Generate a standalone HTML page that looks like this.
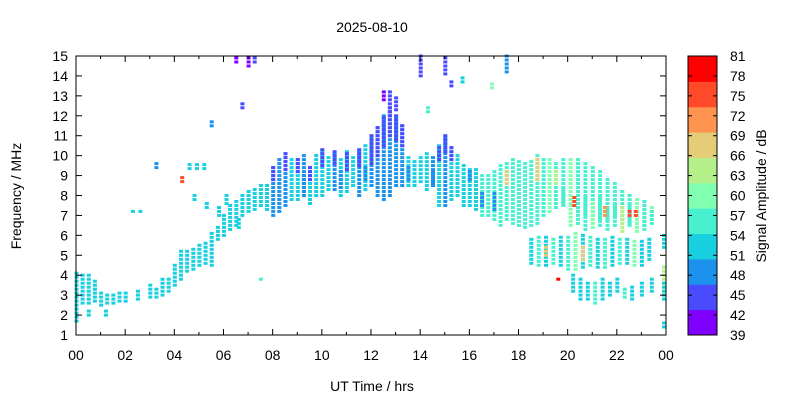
<!DOCTYPE html>
<html><head><meta charset="utf-8"><style>
body{margin:0;background:#fff;}
svg text{font-family:"Liberation Sans",sans-serif;font-size:14px;fill:#000;}
</style></head><body>
<svg id="c" width="800" height="400"></svg>
<script>
const hours=[0,0.25,0.5,0.75,1,1.25,1.5,1.75,2,2.5,3,3.25,3.5,3.75,4,4.25,4.5,4.75,5,5.25,5.5,5.75,6,6.25,6.5,6.75,7,7.25,7.5,7.75,8,8.25,8.5,8.75,9,9.25,9.5,9.75,10,10.25,10.5,10.75,11,11.25,11.5,11.75,12,12.25,12.5,12.75,13,13.25,13.5,13.75,14,14.25,14.5,14.75,15,15.25,15.5,15.75,16,16.25,16.5,16.75,17,17.25,17.5,17.75,18,18.25,18.5,18.75,19,19.25,19.5,
19.8,20.1,20.4,20.7,21,21.3,21.6,21.9,22.2,22.5,22.8,23.1,23.4,
19.8,20.1,20.4,20.7,21,21.3,21.6,21.9,22.2,22.5,22.8,23.1,23.4,23.9,
18.5,18.8,19.1,19.4,19.7,20,20.3,20.6,20.9,21.2,21.5,21.8,22.1,22.4,22.7,23,23.3,23.9,
20.2,20.5,20.8,21.1,21.4,21.7,22,22.3,22.6,23,23.4,23.9];
const lowF=[1.7,2.6,2.6,2.7,2.5,2.6,2.6,2.7,2.7,2.8,2.9,2.9,3,3.2,3.5,3.8,4.2,4.3,4.5,4.6,4.5,5.8,6,6.3,6.5,7,7.2,7.3,7.5,7.3,7,7.2,7.5,7.8,7.8,8,7.6,8,8,8.3,8.3,8,8.2,8.5,8,8.3,8.5,8,7.8,8,8.5,8.5,8.5,8.5,8.7,8.3,8.5,7.5,7.5,7.8,8,7.5,7.5,7.3,7,7,6.8,6.5,6.8,6.6,6.5,6.4,6.5,6.6,7,7.2,7.4,
7.6,7.6,7.4,7,7,6.8,6.8,7,6.8,6.6,6.6,6.5,6.8,
7.5,6.5,6.6,6.3,6.4,6.5,6.3,6.5,6.2,6.5,6.2,6.3,6.6,5.4,
4.6,4.5,4.5,4.6,4.5,4.3,4.3,4.4,4.5,4.4,4.4,4.5,4.6,4.6,4.5,4.5,4.8,3.2,
3.2,2.8,2.8,2.6,2.8,3,3.2,2.9,2.8,3,3.2,2.8];
const highF=[4.2,4,4,3.8,3.2,3.1,3,3.1,3.2,3.3,3.5,3.3,3.9,3.8,4.6,5.2,5.2,5.4,5.5,5.6,6.2,6.5,7,7.5,7.8,8,8.2,8.3,8.5,8.6,9.5,9.8,10.2,9.8,9.8,10,9.5,10,10.3,10,10.2,9.8,10.2,10,10.3,10.5,11,11.5,12,12.5,12,11.5,10,9.8,10,10.2,10,10.5,11,10.5,10,9.5,9.3,9.3,9,9,9.2,9.5,9.6,9.8,9.8,9.6,9.8,10,9.8,9.8,9.6,
9.9,9.9,9.9,9.6,9.4,9.3,8.8,8.6,8.2,8,7.9,7.8,7.5,
8.3,7.5,7.8,7.9,7.6,7.9,7.4,7.6,7.5,7.6,7.5,7.3,7.3,6,
5.8,5.9,5.9,5.8,5.9,6.0,6.1,6.1,5.9,5.8,5.9,6.0,5.9,5.9,5.8,5.8,5.9,4.5,
4.0,3.8,3.6,3.6,3.9,3.7,3.8,3.4,3.4,3.6,3.8,3.6];
const amps=[53,53,53,53,53,53,53,53,53,53,53,53,53,53,53,53,53,53,53,53,53,53,53,52,52,52,52,52,52,52,50,50,50,52,52,50,52,52,52,52,50,52,52,52,50,52,50,50,48,48,50,50,52,52,52,52,50,52,50,52,52,52,53,53,55,55,56,58,57,58,56,56,57,58,58,60,57,
58,60,58,56,56,57,58,56,56,58,60,58,60,
57,60,58,56,60,57,56,58,62,56,60,58,56,53,
53,56,53,57,53,56,60,53,57,53,56,53,57,53,60,53,53,62,
53,52,53,56,53,52,53,56,52,53,53,53];
// upper blue parts and highlights
const upHours=[8,8.5,9,9.5,10,10.5,11,11.5,12,12.25,12.5,12.75,13,13.25,14.75,15,15.25,16,17.5,18.75,19.5,20.25,22.5,22.75,9.25,10.75,11.75,13.5,14.5,16.5,17,19.1,20.6,21.5];
const upLow=[8.8,9.3,9.2,8.8,9.5,9.6,9.3,9.5,9.6,10,10.5,11,10.8,10.5,9.8,10.2,9.8,8.8,8.6,8.8,8.6,7.5,7,7,8.2,8.4,8.8,8.8,8.6,7.5,7.3,5,4.8,7];
const upHigh=[9.5,10.2,9.8,9.5,10.3,10.2,10.2,10.3,11,11.5,12,12.5,12,11.5,10.5,11,10.5,9.3,9.3,9.8,9.3,8,7.3,7.3,9,9.2,9.4,9.4,9.2,8.2,8.2,5.5,5.4,7.4];
const upAmps=[46,46,46,46,46,46,46,46,46,45,45,44,45,46,46,46,46,48,66,67,63,75,77,76,48,48,48,48,48,48,48,66,66,72];
// sporadic echoes
const spHours=[6.5,7,7.25,6.75,12.5,12.75,13,14,15,17.5,15.25,5.5,3.25,4.3,4.6,4.9,5.2,23.9,0.5,1.2,2.3,2.6,7.5,5.8,6.1,6.6,4.8,5.3,19.6,14.3,15.7,16.9];
const spLow=[14.7,14.5,14.7,12.4,12.8,12,12.3,14,14.1,14.2,13.5,11.5,9.4,8.7,9.35,9.35,9.35,1.4,2.0,2.0,7.2,7.2,3.8,7.0,7.6,6.4,7.8,7.4,3.8,12.2,13.7,13.4];
const spHigh=[15,15,15,12.6,13.3,13.3,13,15,15,15,13.7,11.7,9.6,8.9,9.55,9.55,9.55,1.6,2.2,2.2,7.3,7.3,3.9,7.4,8.0,6.8,8.0,7.6,3.9,12.4,13.9,13.6];
const spAmps=[41,41,43,43,41,43,43,43,45,48,46,48,48,76,53,53,53,53,53,53,53,53,56,53,53,53,53,53,80,55,53,60];

const colors=['#8000ff','#4a4aff','#1c92ec','#19d0e0','#48f0d0','#80ffb0','#b5f08b','#e5cd77','#ff9350','#ff4a2a','#ff0000'];
const X0=76,X1=666,Y0=56,Y1=335;
const xs=h=>X0+h*(X1-X0)/24;
const ys=f=>Y1-(f-1)*(Y1-Y0)/14;
const col=a=>colors[Math.max(0,Math.min(10,Math.floor((a-39)/42*11)))];
const NS='http://www.w3.org/2000/svg';
const svg=document.getElementById('c');
function mk(tag,attrs,parent){const e=document.createElementNS(NS,tag);for(const k in attrs)e.setAttribute(k,attrs[k]);(parent||svg).appendChild(e);return e;}
function txt(x,y,s,anchor,name,extra){const t=mk('text',Object.assign({x:x,y:y,'text-anchor':anchor},extra||{}));t.textContent=s;


return t;}
const marks=mk('g',{});


function drawSet(H,L,Hi,A,name){
 for(let i=0;i<H.length;i++){
  for(let f=L[i];f<=Hi[i]+0.001;f+=0.2){
   const r=mk('rect',{x:(xs(H[i])-1.5).toFixed(1),y:(ys(f)-1.5).toFixed(1),width:4,height:3,fill:col(A[i])},marks);
   
   
  }
 }
}
drawSet(hours,lowF,highF,amps,'echo-point');
drawSet(upHours,upLow,upHigh,upAmps,'echo-point-upper');
drawSet(spHours,spLow,spHigh,spAmps,'sporadic-echo');

const fr=mk('rect',{x:X0,y:Y0,width:X1-X0,height:Y1-Y0,fill:'none',stroke:'#000','stroke-width':1});


const yTicks=[1,2,3,4,5,6,7,8,9,10,11,12,13,14,15];
yTicks.forEach(f=>{const y=ys(f);
 mk('line',{x1:X0,x2:X0+6,y1:y,y2:y,stroke:'#000'});mk('line',{x1:X1,x2:X1-6,y1:y,y2:y,stroke:'#000'});
 txt(X0-8,y+5,String(f),'end','y-tick-label');});
const xTicks=['00','02','04','06','08','10','12','14','16','18','20','22','00'];
xTicks.forEach((s,i)=>{const x=xs(i*2);
 mk('line',{x1:x,x2:x,y1:Y1,y2:Y1-6,stroke:'#000'});mk('line',{x1:x,x2:x,y1:Y0,y2:Y0+6,stroke:'#000'});
 txt(x,Y1+25,s,'middle','x-tick-label');});
for(let h=1;h<24;h+=2){const x=xs(h);mk('line',{x1:x,x2:x,y1:Y1,y2:Y1-3,stroke:'#000'});mk('line',{x1:x,x2:x,y1:Y0,y2:Y0+3,stroke:'#000'});}
txt(372,32,'2025-08-10','middle','chart-title');
txt(372,391,'UT Time / hrs','middle','x-axis-title');
txt(21,196,'Frequency / MHz','middle','y-axis-title',{transform:'rotate(-90 21 196)'});

const CX=688,CW=29;
const cb=mk('g',{});


colors.forEach((c,i)=>{const h=(Y1-Y0)/11;mk('rect',{x:CX,y:Y1-(i+1)*h,width:CW,height:h+0.5,fill:c},cb);});
mk('rect',{x:CX,y:Y0,width:CW,height:Y1-Y0,fill:'none',stroke:'#000'},cb);
const cbTicks=[39,42,45,48,51,54,57,60,63,66,69,72,75,78,81];
cbTicks.forEach((v,i)=>{const y=Y1-i*(Y1-Y0)/14;
 mk('line',{x1:CX,x2:CX+4,y1:y,y2:y,stroke:'#000'},cb);mk('line',{x1:CX+CW,x2:CX+CW-4,y1:y,y2:y,stroke:'#000'},cb);
 txt(730,y+5,String(v),'start','colorbar-tick-label');});
txt(766,196,'Signal Amplitude / dB','middle','colorbar-title',{transform:'rotate(-90 766 196)'});
</script>
</body></html>
